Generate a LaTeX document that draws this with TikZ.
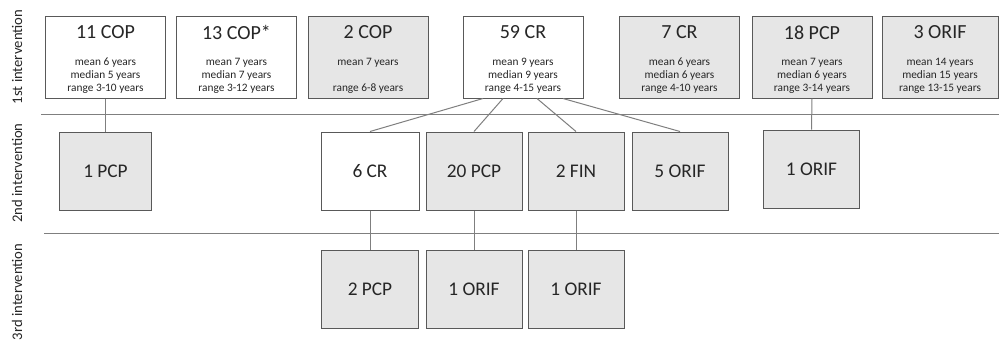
\documentclass[tikz,border=0pt]{standalone}
\usepackage{fontspec}
\setmainfont{Carlito}
\usetikzlibrary{calc}
\definecolor{boxgray}{HTML}{E6E6E6}
\definecolor{edgegray}{HTML}{595959}
\definecolor{linegray}{HTML}{7F7F7F}
\definecolor{textgray}{HTML}{262626}
\tikzstyle{topbox} = [draw=edgegray,fill=boxgray,line width=0.75pt,minimum width=90pt,minimum height=61.5pt,inner sep=0pt]
\tikzstyle{subbox} = [draw=edgegray,fill=boxgray,line width=0.75pt,minimum width=72pt,minimum height=58.5pt,inner sep=0pt,text=textgray,font=\fontsize{14.5}{17}\selectfont]
\tikzstyle{blank} = [fill=white]
\tikzstyle{title} = [text=textgray,font=\fontsize{15}{18}\selectfont]
\tikzstyle{stats} = [text=textgray,align=center,font=\fontsize{8.5}{9.75}\selectfont]
\tikzstyle{level} = [rotate=90,text=textgray,font=\fontsize{11}{13}\selectfont]
\tikzstyle{link} = [draw=linegray,line width=0.75pt]

\begin{document}
\begin{tikzpicture}[x=0.75pt,y=-0.75pt]
      \useasboundingbox (0,0) rectangle (999,340);
      % intervention levels
      \node[level] (lv1) at (17,57) {1st intervention};
      \node[level] (lv2) at (17,173) {2nd intervention};
      \node[level] (lv3) at (17,292) {3rd intervention};
      \draw[link] (41,114) -- (999,114);
      \draw[link] (44,233) -- (999,233);
      % 1st intervention
      \node[topbox,blank] (cop11) at (105.5,57) {};
      \node[topbox,blank] (cop13) at (236.5,57) {};
      \node[topbox] (cop2) at (368,57) {};
      \node[topbox,blank] (cr59) at (523,57) {};
      \node[topbox] (cr7) at (679.5,57) {};
      \node[topbox] (pcp18) at (812,57) {};
      \node[topbox,minimum width=87pt] (orif3) at (940,57) {};
      \node[title] (cop11t) at ($(cop11.north)+(0,17)$) {11 COP};
      \node[title] (cop13t) at ($(cop13.north)+(0,17)$) {13 COP*};
      \node[title] (cop2t) at ($(cop2.north)+(0,17)$) {2 COP};
      \node[title] (cr59t) at ($(cr59.north)+(0,17)$) {59 CR};
      \node[title] (cr7t) at ($(cr7.north)+(0,17)$) {7 CR};
      \node[title] (pcp18t) at ($(pcp18.north)+(0,17)$) {18 PCP};
      \node[title] (orif3t) at ($(orif3.north)+(0,17)$) {3 ORIF};
      \node[stats] (cop11s) at ($(cop11.north)+(0,60)$) {mean 6 years\\median 5 years\\range 3-10 years};
      \node[stats] (cop13s) at ($(cop13.north)+(0,60)$) {mean 7 years\\median 7 years\\range 3-12 years};
      \node[stats] (cop2s) at ($(cop2.north)+(0,60)$) {mean 7 years\\\mbox{}\\range 6-8 years};
      \node[stats] (cr59s) at ($(cr59.north)+(0,60)$) {mean 9 years\\median 9 years\\range 4-15 years};
      \node[stats] (cr7s) at ($(cr7.north)+(0,60)$) {mean 6 years\\median 6 years\\range 4-10 years};
      \node[stats] (pcp18s) at ($(pcp18.north)+(0,60)$) {mean 7 years\\median 6 years\\range 3-14 years};
      \node[stats] (orif3s) at ($(orif3.north)+(0,60)$) {mean 14 years\\median 15 years\\range 13-15 years};
      % 2nd intervention
      \node[subbox,minimum width=69pt] (pcp1) at (105.5,171) {1 PCP};
      \node[subbox,blank,minimum width=73.5pt] (cr6) at (370,171) {6 CR};
      \node[subbox] (pcp20) at (474,171) {20 PCP};
      \node[subbox] (fin2) at (576,171) {2 FIN};
      \node[subbox] (orif5) at (680,171) {5 ORIF};
      \node[subbox] (orif1a) at (811.5,169) {1 ORIF};
      % 3rd intervention
      \node[subbox,minimum width=73pt] (pcp2) at (370,289) {2 PCP};
      \node[subbox] (orif1b) at (474,289) {1 ORIF};
      \node[subbox] (orif1c) at (576,289) {1 ORIF};
      % links
      \coordinate (cr59a) at ($(cr59.south)+(-40,0)$);
      \coordinate (cr59b) at ($(cr59.south)+(-20,0)$);
      \coordinate (cr59c) at ($(cr59.south)+(14,0)$);
      \coordinate (cr59d) at ($(cr59.south)+(40,0)$);
      \draw[link] (cop11.south) -- (pcp1.north);
      \draw[link] (cr59a) -- (cr6.north);
      \draw[link] (cr59b) -- (pcp20.north);
      \draw[link] (cr59c) -- (fin2.north);
      \draw[link] (cr59d) -- (orif5.north);
      \draw[link] (pcp18.south) -- (orif1a.north);
      \draw[link] (cr6.south) -- (pcp2.north);
      \draw[link] (pcp20.south) -- (orif1b.north);
      \draw[link] (fin2.south) -- (orif1c.north);
    \end{tikzpicture}
\end{document}
